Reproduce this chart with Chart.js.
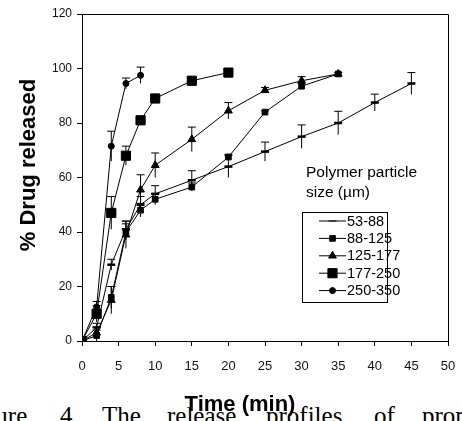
<!DOCTYPE html>
<html>
<head>
<meta charset="utf-8">
<script src="https://cdn.jsdelivr.net/npm/chart.js@4.4.1/dist/chart.umd.min.js"></script>
<style>
  html, body { margin: 0; padding: 0; background: #fff; }
  #wrap { position: relative; width: 462px; height: 421px; overflow: hidden; }
  #caption { position: absolute; top: 402px; left: 0; width: 462px; height: 40px;
    font-family: "Liberation Serif", "Times New Roman", serif; font-size: 25px; color: #000; white-space: nowrap; }
  #caption span { position: absolute; top: 0; }
  canvas { position: absolute; left: 0; top: 0; }
</style>
</head>
<body>
<div id="wrap">
  <div id="caption">
    <span style="left:-38px">Figure</span><span style="left:60px">4.</span><span style="left:102px">The</span><span style="left:167px">release</span><span style="left:266px">profiles</span><span style="left:374px">of</span><span style="left:422px">promising</span>
  </div>
  <canvas id="releaseChart" width="462" height="421"></canvas>
</div>
<script>
// Release data (time in min, % drug released, error)
const sizeLabels = ["53-88", "88-125", "125-177", "177-250", "250-350"];

const times53 = [0, 2, 4, 6, 8, 10, 15, 20, 25, 30, 35, 40, 45];
const rel53 = [0, 5, 28, 41, 50, 54, 59, 64, 69.5, 75, 80, 87.5, 94.5];
const err53 = [0, 1.5, 2, 3, 3, 3, 3.5, 4, 3.5, 4.3, 4.3, 3.1, 4];

const times88 = [0, 2, 4, 6, 8, 10, 15, 20, 25, 30, 35];
const rel88 = [0, 2, 16, 40, 48, 52, 56.5, 67.5, 84, 93.5, 98];
const err88 = [0, 2, 4, 3, 2.5, 2, 1.5, 1, 0.5, 1, 0.5];

const times125 = [0, 2, 4, 6, 8, 10, 15, 20, 25, 30, 35];
const rel125 = [0, 3, 15, 39, 55.5, 64.5, 74, 84.5, 92, 95.5, 98];
const err125 = [0, 2, 5, 5, 5.5, 4.5, 4.5, 3, 1, 1.5, 0.5];

const times177 = [0, 2, 4, 6, 8, 10, 15, 20];
const rel177 = [0, 10, 47, 68, 81, 89, 95.5, 98.5];
const err177 = [0, 3, 6, 3.5, 1, 0.5, 0.5, 0.5];

const times250 = [0, 2, 4, 6, 8];
const rel250 = [0, 12.5, 71.5, 94.5, 97.5];
const err250 = [0, 2, 5.5, 2, 3];

const xTicks = [0, 5, 10, 15, 20, 25, 30, 35, 40, 45, 50];
const yTicks = [0, 20, 40, 60, 80, 100, 120];

const toPoints = (xs, ys, es) => xs.map((x, i) => ({ x: x, y: ys[i], e: es[i] }));

const markers = [
  { style: 'line', radius: 4, border: 2.5 },
  { style: 'rect', radius: 4, border: 1 },
  { style: 'triangle', radius: 4.5, border: 1 },
  { style: 'rect', radius: 6.5, border: 1 },
  { style: 'circle', radius: 3, border: 1 }
];

const series = [
  toPoints(times53, rel53, err53),
  toPoints(times88, rel88, err88),
  toPoints(times125, rel125, err125),
  toPoints(times177, rel177, err177),
  toPoints(times250, rel250, err250)
];

const datasets = series.map((pts, i) => ({
  label: sizeLabels[i],
  data: pts,
  borderColor: '#000',
  backgroundColor: '#000',
  borderWidth: 1,
  pointStyle: markers[i].style,
  pointRadius: markers[i].radius,
  pointBorderWidth: markers[i].border,
  pointBackgroundColor: '#000',
  pointBorderColor: '#000',
  tension: 0
}));

const FONT = '"Liberation Sans", Arial, sans-serif';

// error bars, frame, titles and legend
const extras = {
  id: 'extras',
  beforeDatasetsDraw(chart) {
    const { ctx, scales: { x, y } } = chart;
    ctx.save();
    ctx.strokeStyle = '#000';
    ctx.lineWidth = 1;
    series.forEach(pts => {
      pts.forEach(p => {
        if (!p.e) return;
        const px = x.getPixelForValue(p.x);
        const top = y.getPixelForValue(p.y + p.e);
        const bot = y.getPixelForValue(p.y - p.e);
        ctx.beginPath();
        ctx.moveTo(px, top); ctx.lineTo(px, bot);
        ctx.moveTo(px - 4, top); ctx.lineTo(px + 4, top);
        ctx.stroke();
      });
    });
    ctx.restore();
  },
  afterDraw(chart) {
    const { ctx, chartArea: a } = chart;
    ctx.save();
    ctx.strokeStyle = '#000';
    ctx.lineWidth = 1;
    ctx.beginPath();
    ctx.moveTo(a.left, a.top + 0.5); ctx.lineTo(a.right + 0.5, a.top + 0.5); ctx.lineTo(a.right + 0.5, a.bottom);
    ctx.stroke();

    // axis titles
    ctx.fillStyle = '#000';
    ctx.font = 'bold 22px ' + FONT;
    ctx.textAlign = 'center';
    ctx.textBaseline = 'alphabetic';
    ctx.fillText('Time (min)', 240, 411);
    ctx.translate(35, 165);
    ctx.rotate(-Math.PI / 2);
    ctx.fillText('% Drug released', 0, 0);
    ctx.setTransform(1, 0, 0, 1, 0, 0);
    ctx.restore();

    // legend
    ctx.save();
    ctx.fillStyle = '#000';
    ctx.font = '15.5px ' + FONT;
    ctx.textAlign = 'left';
    ctx.textBaseline = 'middle';
    ctx.fillText('Polymer particle', 306, 173);
    ctx.fillText('size (\u00b5m)', 306, 193);
    ctx.strokeStyle = '#000';
    ctx.lineWidth = 1;
    ctx.strokeRect(302.5, 212.5, 85, 90);
    ctx.font = '14.5px ' + FONT;
    sizeLabels.forEach((lab, i) => {
      const ly = 221 + i * 17.4;
      ctx.beginPath();
      ctx.moveTo(319, ly); ctx.lineTo(346, ly);
      ctx.lineWidth = 1;
      ctx.stroke();
      Chart.helpers.drawPoint(ctx, {
        pointStyle: markers[i].style,
        radius: markers[i].radius,
        borderWidth: markers[i].border,
        rotation: 0
      }, 332.5, ly);
      ctx.fillStyle = '#000';
      ctx.fillText(lab, 347, ly + 0.5);
    });
    ctx.restore();
  }
};

const ctx = document.getElementById('releaseChart').getContext('2d');
new Chart(ctx, {
  type: 'line',
  data: { datasets: datasets },
  plugins: [extras],
  options: {
    responsive: false,
    animation: false,
    layout: { padding: { left: 0, right: 14, top: 14, bottom: 0 } },
    plugins: { legend: { display: false }, tooltip: { enabled: false } },
    scales: {
      x: {
        type: 'linear',
        min: 0, max: 50,
        afterBuildTicks: s => { s.ticks = xTicks.map(v => ({ value: v })); },
        afterFit: s => { s.height = 80; s.paddingLeft = 0; s.paddingRight = 0; },
        grid: { display: true, drawOnChartArea: false, drawTicks: true, tickLength: 5, color: '#000' },
        border: { display: true, color: '#000', width: 1 },
        ticks: { color: '#111', font: { family: FONT, size: 13 }, padding: 13, maxRotation: 0 }
      },
      y: {
        min: 0, max: 120,
        afterBuildTicks: s => { s.ticks = yTicks.map(v => ({ value: v })); },
        afterFit: s => { s.width = 82; s.paddingTop = 0; s.paddingBottom = 0; },
        grid: { display: true, drawOnChartArea: false, drawTicks: true, tickLength: 5, color: '#000' },
        border: { display: true, color: '#000', width: 1 },
        ticks: { color: '#111', font: { family: FONT, size: 12 }, padding: 5 }
      }
    }
  }
});
</script>
</body>
</html>
